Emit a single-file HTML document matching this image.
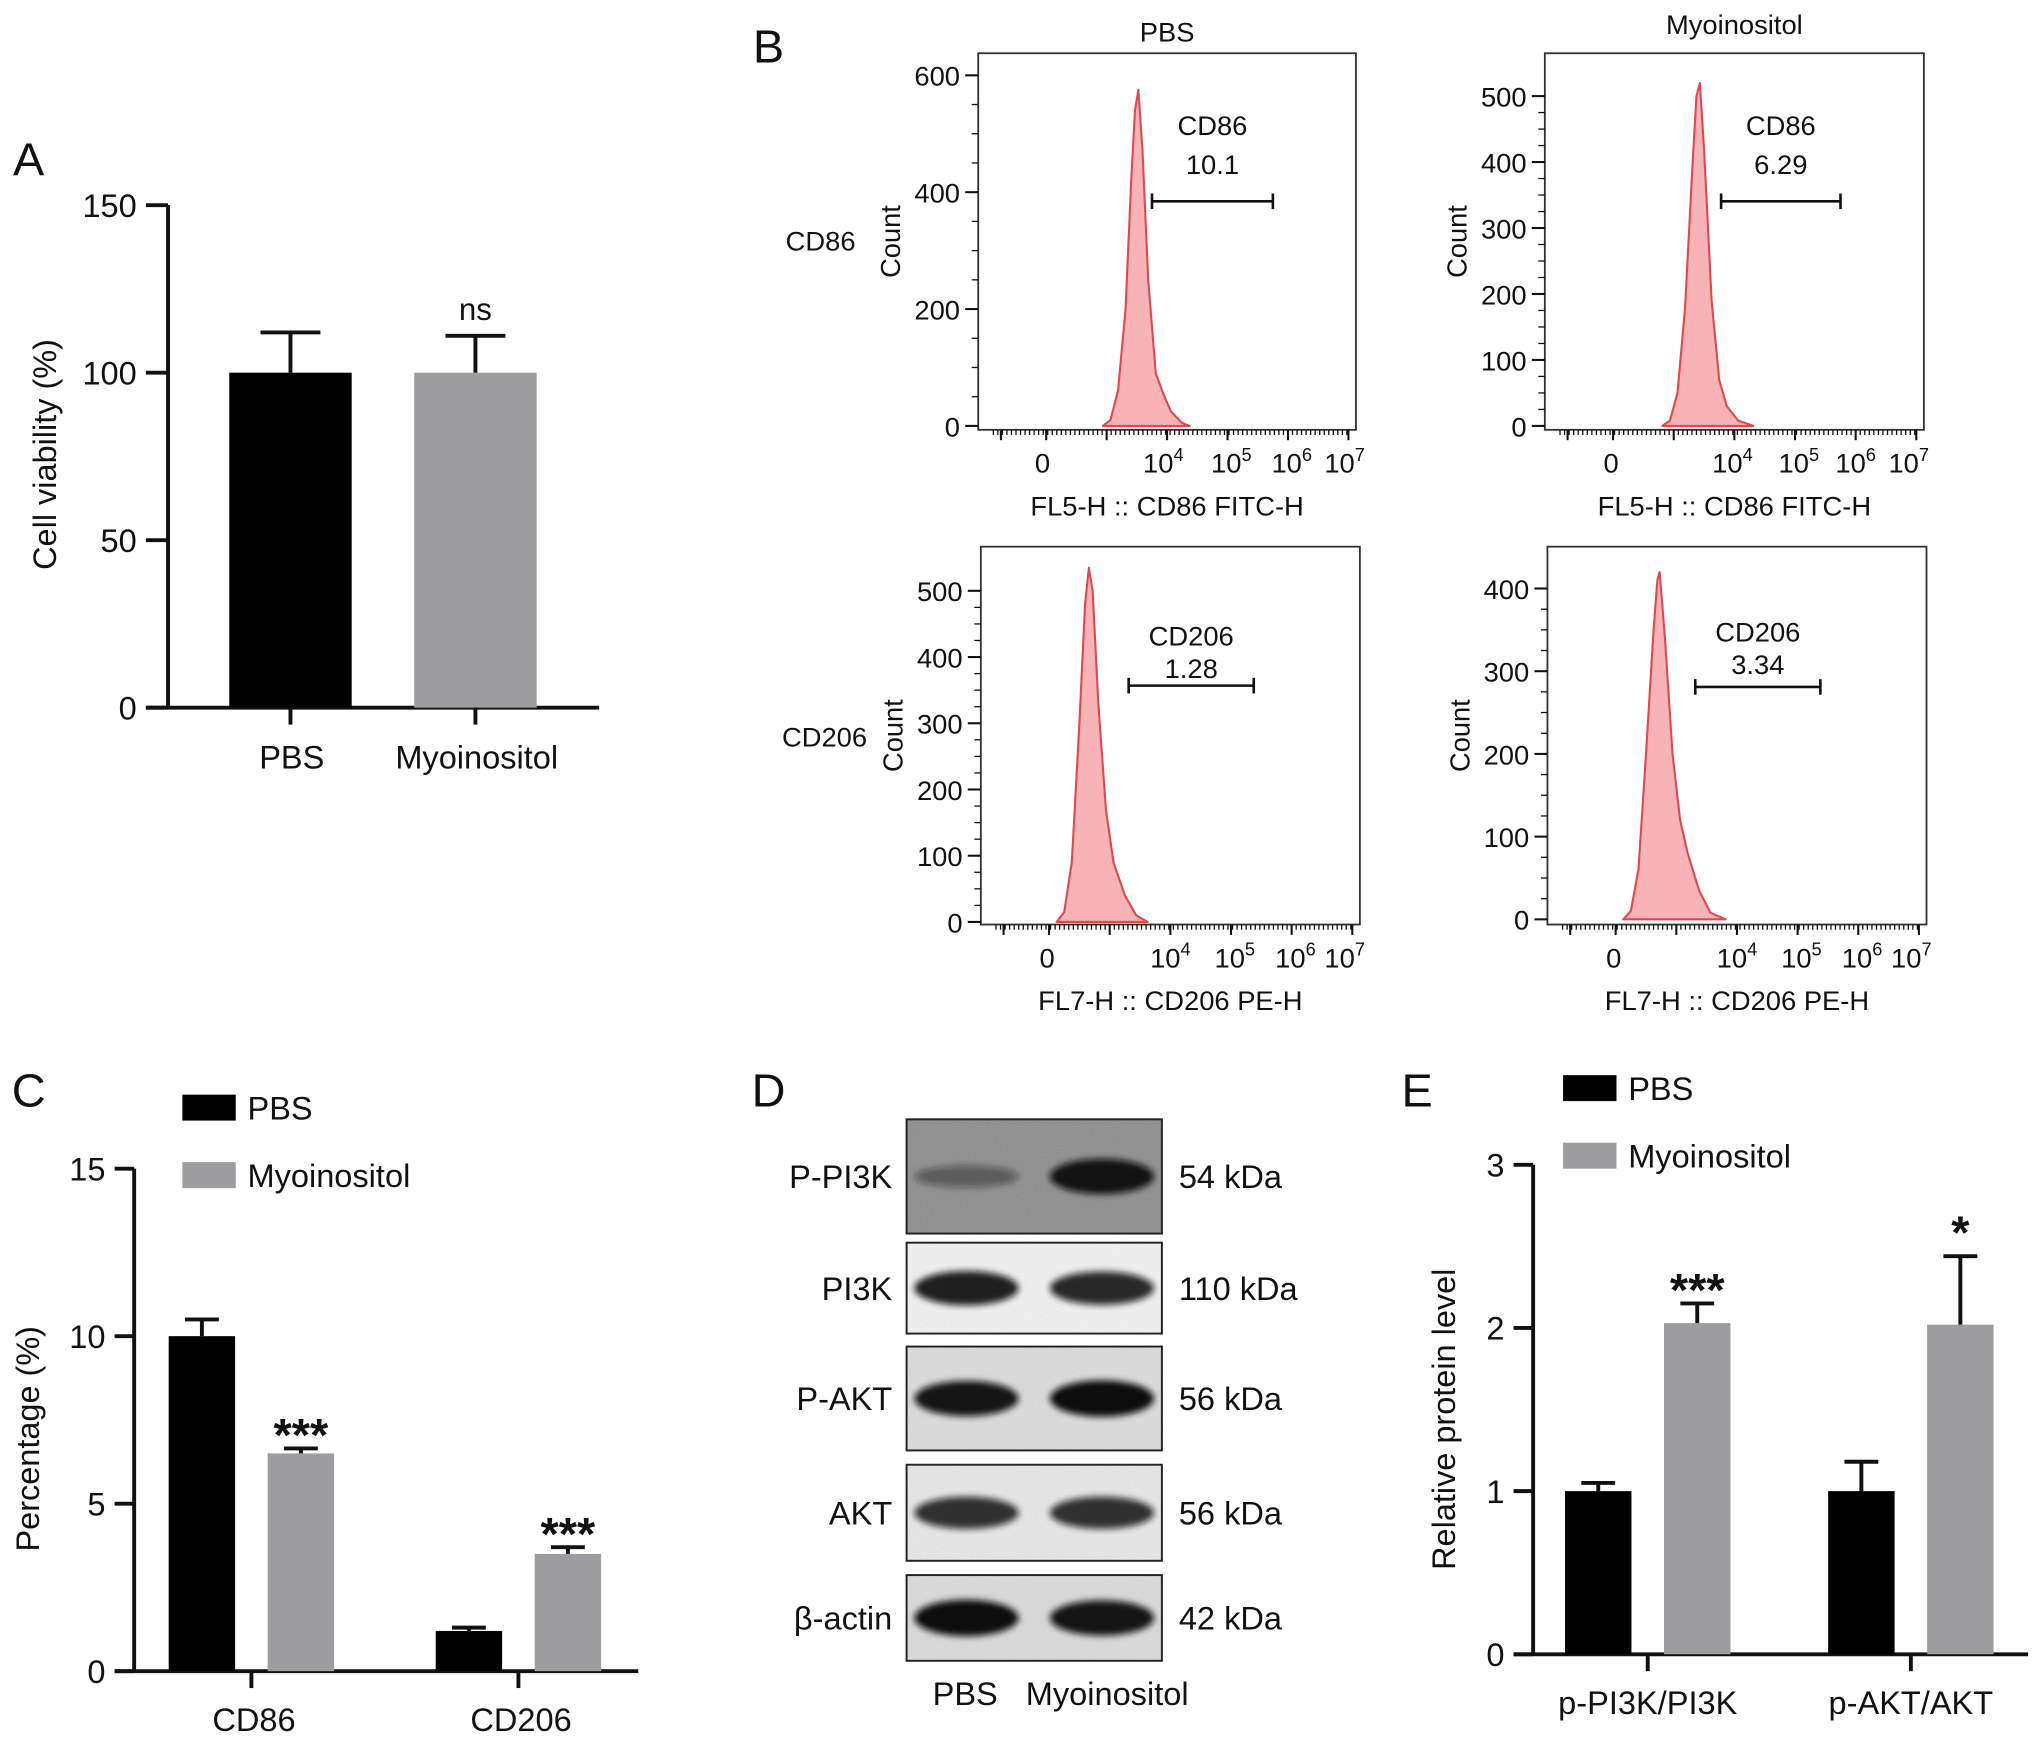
<!DOCTYPE html>
<html><head><meta charset="utf-8"><style>
html,body{margin:0;padding:0;background:#fff}
svg{display:block}
text{font-family:"Liberation Sans",sans-serif;fill:#111}
</style></head><body>
<svg id="fig" width="2032" height="1740" viewBox="0 0 1560 1340" preserveAspectRatio="none" xmlns="http://www.w3.org/2000/svg">
<defs>
<filter id="blur" x="-20%" y="-60%" width="140%" height="220%"><feGaussianBlur stdDeviation="2.5"/></filter>
<filter id="noise" x="0" y="0" width="1" height="1"><feTurbulence type="fractalNoise" baseFrequency="0.9" numOctaves="2" result="n"/><feColorMatrix type="saturate" values="0"/><feComponentTransfer><feFuncA type="linear" slope="0.2"/></feComponentTransfer></filter>
</defs>
<g id="root"></g>
</svg>
<script>
// ---- Panel A data ----
const aCategories = ["PBS","Myoinositol"];
const aValues = [100, 100];
const aErrors = [12, 11];
const aTicks = [0,50,100,150];
// ---- Panel C data ----
const cGroups = ["CD86","CD206"];
const cPBS = [10.0, 1.2];
const cPBSErr = [0.5, 0.1];
const cMyo = [6.5, 3.5];
const cMyoErr = [0.15, 0.2];
const cSig = ["***","***"];
const cTicks = [0,5,10,15];
// ---- Panel E data ----
const eGroups = ["p-PI3K/PI3K","p-AKT/AKT"];
const ePBS = [1.0, 1.0];
const ePBSErr = [0.05, 0.18];
const eMyo = [2.03, 2.02];
const eMyoErr = [0.12, 0.42];
const eSig = ["***","*"];
const eTicks = [0,1,2,3];
// ---- Panel B flow histograms (x = fraction of axis, y = count) ----
const h1x = [0.33,0.35,0.37,0.39,0.405,0.415,0.424,0.435,0.45,0.47,0.49,0.51,0.54,0.56];
const h1y = [0,10,60,200,420,540,575,470,250,90,55,25,5,0];
const h2x = [0.31,0.33,0.35,0.37,0.39,0.40,0.409,0.42,0.44,0.46,0.48,0.51,0.55];
const h2y = [0,8,50,180,400,500,520,420,190,70,30,8,0];
const h3x = [0.20,0.22,0.24,0.26,0.275,0.285,0.295,0.31,0.33,0.35,0.38,0.41,0.44];
const h3y = [0,15,90,300,480,535,500,330,170,90,40,10,0];
const h4x = [0.20,0.22,0.24,0.26,0.28,0.29,0.296,0.31,0.33,0.35,0.37,0.40,0.43,0.47];
const h4y = [0,10,60,200,350,410,420,340,200,120,80,35,8,0];
const flowTicks1 = [0,200,400,600];
const flowTicks2 = [0,100,200,300,400,500];
const flowTicks3 = [0,100,200,300,400,500];
const flowTicks4 = [0,100,200,300,400];
const gateLabels = ["CD86","CD86","CD206","CD206"];
const gateValues = ["10.1","6.29","1.28","3.34"];
const gateStart = [0.46,0.465,0.39,0.39];
const gateEnd = [0.78,0.78,0.72,0.72];
const xExp = ["4","5","6","7"];
// ---- Panel D blots ----
const blotLabels = ["P-PI3K","PI3K","P-AKT","AKT","β-actin"];
const blotKDa = ["54 kDa","110 kDa","56 kDa","56 kDa","42 kDa"];
const bandPBS = [0.3, 0.9, 0.95, 0.8, 1.0];
const bandMyo = [0.95, 0.85, 1.0, 0.8, 0.95];

const NS="http://www.w3.org/2000/svg";
const root=document.getElementById('root');
function el(tag,attrs,parent){const e=document.createElementNS(NS,tag);for(const k in attrs)e.setAttribute(k,attrs[k]);(parent||root).appendChild(e);return e;}
function txt(x,y,s,size,anchor,parent,extra){const t=el('text',Object.assign({x:x,y:y,'font-size':size,'text-anchor':anchor||'middle'},extra||{}),parent);t.textContent=s;return t;}
function line(x1,y1,x2,y2,w,parent,col){return el('line',{x1:x1,y1:y1,x2:x2,y2:y2,stroke:col||'#111','stroke-width':w||2},parent);}

// Panel letters
[["A",22,135],["B",590,48],["C",22,852],["D",590,852],["E",1088,852]].forEach(p=>{
  const t=txt(p[1],p[2],p[0],36,'middle');
  
  
});

// ---------- Panel A ----------
(function(){
  const g=el('g',{});
  
  
  const y0=545, yTop=158, vmax=150;
  const Y=v=>y0-(v/vmax)*(y0-yTop);
  line(129,yTop,129,y0,3,g); line(112,y0,460,y0,3,g);
  aTicks.forEach(v=>{line(112,Y(v),129,Y(v),3,g);txt(105,Y(v)+9,String(v),25,'end',g);});
  const centers=[223,365], cols=['#000','#9d9d9f'];
  aValues.forEach((v,i)=>{
    const b=el('rect',{x:centers[i]-47,y:Y(v),width:94,height:y0-Y(v),fill:cols[i]},g);
    
    
    line(centers[i],Y(v),centers[i],Y(v+aErrors[i]),3,g);
    line(centers[i]-23,Y(v+aErrors[i]),centers[i]+23,Y(v+aErrors[i]),3,g);
    line(centers[i],y0,centers[i],y0+13,3,g);
    txt(centers[i]+1,y0+47,aCategories[i],25,'middle',g);
  });
  txt(centers[1],Y(aValues[1]+aErrors[1])-12,"ns",24,'middle',g);
  const t=txt(0,0,"Cell viability (%)",25,'middle',g,{transform:'translate(43,350) rotate(-90)'});
  
  
})();

// ---------- Panel B ----------
function flow(cfg){
  const g=el('g',{});
  
  
  const {bx,by,bw,bh,y0,per100}=cfg;
  const X=f=>bx+f*bw, Y=v=>y0-v/100*per100;
  let d='M'+X(cfg.hx[0])+','+Y(0);
  cfg.hx.forEach((f,i)=>{d+=' L'+X(f)+','+Y(cfg.hy[i]);});
  d+=' L'+X(cfg.hx[cfg.hx.length-1])+','+Y(0)+'Z';
  const p=el('path',{d:d,fill:'#f7b3b5',stroke:'#e2474f','stroke-width':1.6,'stroke-linejoin':'round'},g);
  
  
  el('rect',{x:bx,y:by,width:bw,height:bh,fill:'none',stroke:'#333','stroke-width':1.4},g);
  cfg.ticks.forEach(v=>{line(bx-10,Y(v),bx,Y(v),1.6,g);txt(bx-14,Y(v)+8,String(v),21,'end',g);});
  const step=cfg.ticks[1]/4;
  for(let v=0; v<=cfg.ticks[cfg.ticks.length-1]; v+=step){line(bx-5,Y(v),bx,Y(v),1,g);}
  const xb=by+bh;
  for(let f=0.04; f<0.98; f+=0.012){line(X(f),xb,X(f),xb+4,1,g);}
  [0.06,0.18,0.34,0.5,0.66,0.82,0.98].forEach(f=>line(X(f),xb,X(f),xb+8,1.6,g));
  txt(X(cfg.zeroF),xb+33,"0",21,'middle',g);
  cfg.expF.forEach((f,i)=>{
    const t=txt(X(f),xb+33,"10",21,'middle',g);
    const s=document.createElementNS(NS,'tspan');s.setAttribute('font-size','14');s.setAttribute('dy','-9');s.textContent=xExp[i];t.appendChild(s);
  });
  txt(bx+bw/2,xb+66,cfg.xTitle,21,'middle',g);
  txt(0,0,"Count",21,'middle',g,{transform:'translate('+(bx-60)+','+(by+bh/2)+') rotate(-90)'});
  if(cfg.title) txt(bx+bw/2,cfg.titleY,cfg.title,21,'middle',g);
  const gy=cfg.gateY;
  line(X(cfg.g0),gy,X(cfg.g1),gy,2,g);
  line(X(cfg.g0),gy-6,X(cfg.g0),gy+6,2,g);line(X(cfg.g1),gy-6,X(cfg.g1),gy+6,2,g);
  const cx=(X(cfg.g0)+X(cfg.g1))/2;
  txt(cx,cfg.gl1,cfg.gLabel,21,'middle',g);txt(cx,cfg.gl2,cfg.gValue,21,'middle',g);
}
flow({name:'flow-pbs-cd86',bx:751,by:41,bw:290,bh:290,y0:328,per100:45,hx:h1x,hy:h1y,ticks:flowTicks1,zeroF:0.17,expF:[0.49,0.67,0.83,0.97],xTitle:"FL5-H :: CD86 FITC-H",title:"PBS",titleY:32,gateY:155,g0:gateStart[0],g1:gateEnd[0],gLabel:gateLabels[0],gValue:gateValues[0],gl1:104,gl2:134});
flow({name:'flow-myo-cd86',bx:1186,by:41,bw:291,bh:290,y0:328,per100:50.8,hx:h2x,hy:h2y,ticks:flowTicks2,zeroF:0.175,expF:[0.495,0.67,0.82,0.96],xTitle:"FL5-H :: CD86 FITC-H",title:"Myoinositol",titleY:26,gateY:155,g0:gateStart[1],g1:gateEnd[1],gLabel:gateLabels[1],gValue:gateValues[1],gl1:104,gl2:134});
flow({name:'flow-pbs-cd206',bx:753,by:421,bw:291,bh:291,y0:710,per100:51,hx:h3x,hy:h3y,ticks:flowTicks3,zeroF:0.175,expF:[0.5,0.67,0.83,0.96],xTitle:"FL7-H :: CD206 PE-H",title:null,gateY:528,g0:gateStart[2],g1:gateEnd[2],gLabel:gateLabels[2],gValue:gateValues[2],gl1:497,gl2:522});
flow({name:'flow-myo-cd206',bx:1188,by:421,bw:291,bh:291,y0:708,per100:63.7,hx:h4x,hy:h4y,ticks:flowTicks4,zeroF:0.175,expF:[0.5,0.67,0.83,0.96],xTitle:"FL7-H :: CD206 PE-H",title:null,gateY:529,g0:gateStart[3],g1:gateEnd[3],gLabel:gateLabels[3],gValue:gateValues[3],gl1:494,gl2:519});
txt(630,193,"CD86",21,'middle');
txt(633,575,"CD206",21,'middle');

// ---------- grouped bar helper ----------
function grouped(cfg){
  const g=el('g',{});
  
  
  const Y=v=>cfg.y0-(v/cfg.vmax)*(cfg.y0-cfg.yTop);
  line(cfg.ax,cfg.yTop,cfg.ax,cfg.y0,3,g); line(cfg.ax-15,cfg.y0,cfg.xEnd,cfg.y0,3,g);
  cfg.ticks.forEach(v=>{line(cfg.ax-15,Y(v),cfg.ax,Y(v),3,g);txt(cfg.ax-22,Y(v)+9,String(v),25,'end',g);});
  cfg.groups.forEach((name,i)=>{
    const c=cfg.centers[i];
    [[cfg.pbs,cfg.pbsErr,'#000',c-cfg.off],[cfg.myo,cfg.myoErr,'#9d9d9f',c+cfg.off]].forEach((s,j)=>{
      const v=s[0][i],e=s[1][i],x=s[3];
      const b=el('rect',{x:x-cfg.bw/2,y:Y(v),width:cfg.bw,height:cfg.y0-Y(v),fill:s[2]},g);
      
      
      line(x,Y(v),x,Y(v+e),3,g);line(x-13,Y(v+e),x+13,Y(v+e),3,g);
      if(j===1){txt(x,Y(v+e)-(cfg.sig[i]==='*'?6:-2),cfg.sig[i],36,'middle',g,{'font-weight':'bold'});}
    });
    line(c,cfg.y0,c,cfg.y0+13,3,g);
    txt(c+cfg.lblDx,cfg.y0+46,name,25,'middle',g);
  });
  const t=txt(0,0,cfg.yTitle,25,'middle',g,{transform:'translate('+cfg.ytx+','+cfg.yty+') rotate(-90)'});
  
  
  const l1=el('rect',{x:cfg.lx,y:cfg.ly,width:41,height:20,fill:'#000'},g);
  
  
  txt(cfg.lx+50,cfg.ly+19,"PBS",25,'start',g);
  const l2=el('rect',{x:cfg.lx,y:cfg.ly+52,width:41,height:20,fill:'#9d9d9f'},g);
  
  
  txt(cfg.lx+50,cfg.ly+71,"Myoinositol",25,'start',g);
}
grouped({name:'panel-c-chart',groups:cGroups,pbs:cPBS,pbsErr:cPBSErr,myo:cMyo,myoErr:cMyoErr,sig:cSig,ticks:cTicks,vmax:15,y0:1287,yTop:900,ax:103,xEnd:490,centers:[193,398],off:38,bw:51,lblDx:2,yTitle:"Percentage (%)",ytx:30,yty:1108,lx:140,ly:843});
grouped({name:'panel-e-chart',groups:eGroups,pbs:ePBS,pbsErr:ePBSErr,myo:eMyo,myoErr:eMyoErr,sig:eSig,ticks:eTicks,vmax:3,y0:1274,yTop:897,ax:1177,xEnd:1557,centers:[1265,1467],off:38,bw:51,lblDx:0,yTitle:"Relative protein level",ytx:1117,yty:1093,lx:1200,ly:828});

// ---------- Panel D blots ----------
(function(){
  const g=el('g',{});
  
  
  const rows=[[862,950,'#8d8d8d'],[957,1027,'#f2f2f2'],[1037,1117,'#dcdcdc'],[1128,1202,'#e8e8e8'],[1213,1279,'#dadada']];
  rows.forEach((r,i)=>{
    const h=r[1]-r[0], cy=(r[0]+r[1])/2;
    const box=el('rect',{x:696,y:r[0],width:196,height:h,fill:r[2]},g);
    
    
    el('rect',{x:697,y:r[0]+1,width:194,height:h-2,filter:'url(#noise)'},g);
    [[742,bandPBS[i]],[846,bandMyo[i]]].forEach(b=>{
      el('ellipse',{cx:b[0],cy:cy,rx:40,ry:6+8*b[1],fill:'#111','fill-opacity':Math.min(1,0.2+0.8*b[1]),filter:'url(#blur)'},g);
    });
    el('rect',{x:696,y:r[0],width:196,height:h,fill:'none',stroke:'#222','stroke-width':1.5},g);
    txt(685,cy+9,blotLabels[i],25,'end',g);
    txt(905,cy+9,blotKDa[i],25,'start',g);
  });
  txt(741,1313,"PBS",25,'middle',g);
  txt(850,1313,"Myoinositol",25,'middle',g);
})();
</script>
</body></html>
